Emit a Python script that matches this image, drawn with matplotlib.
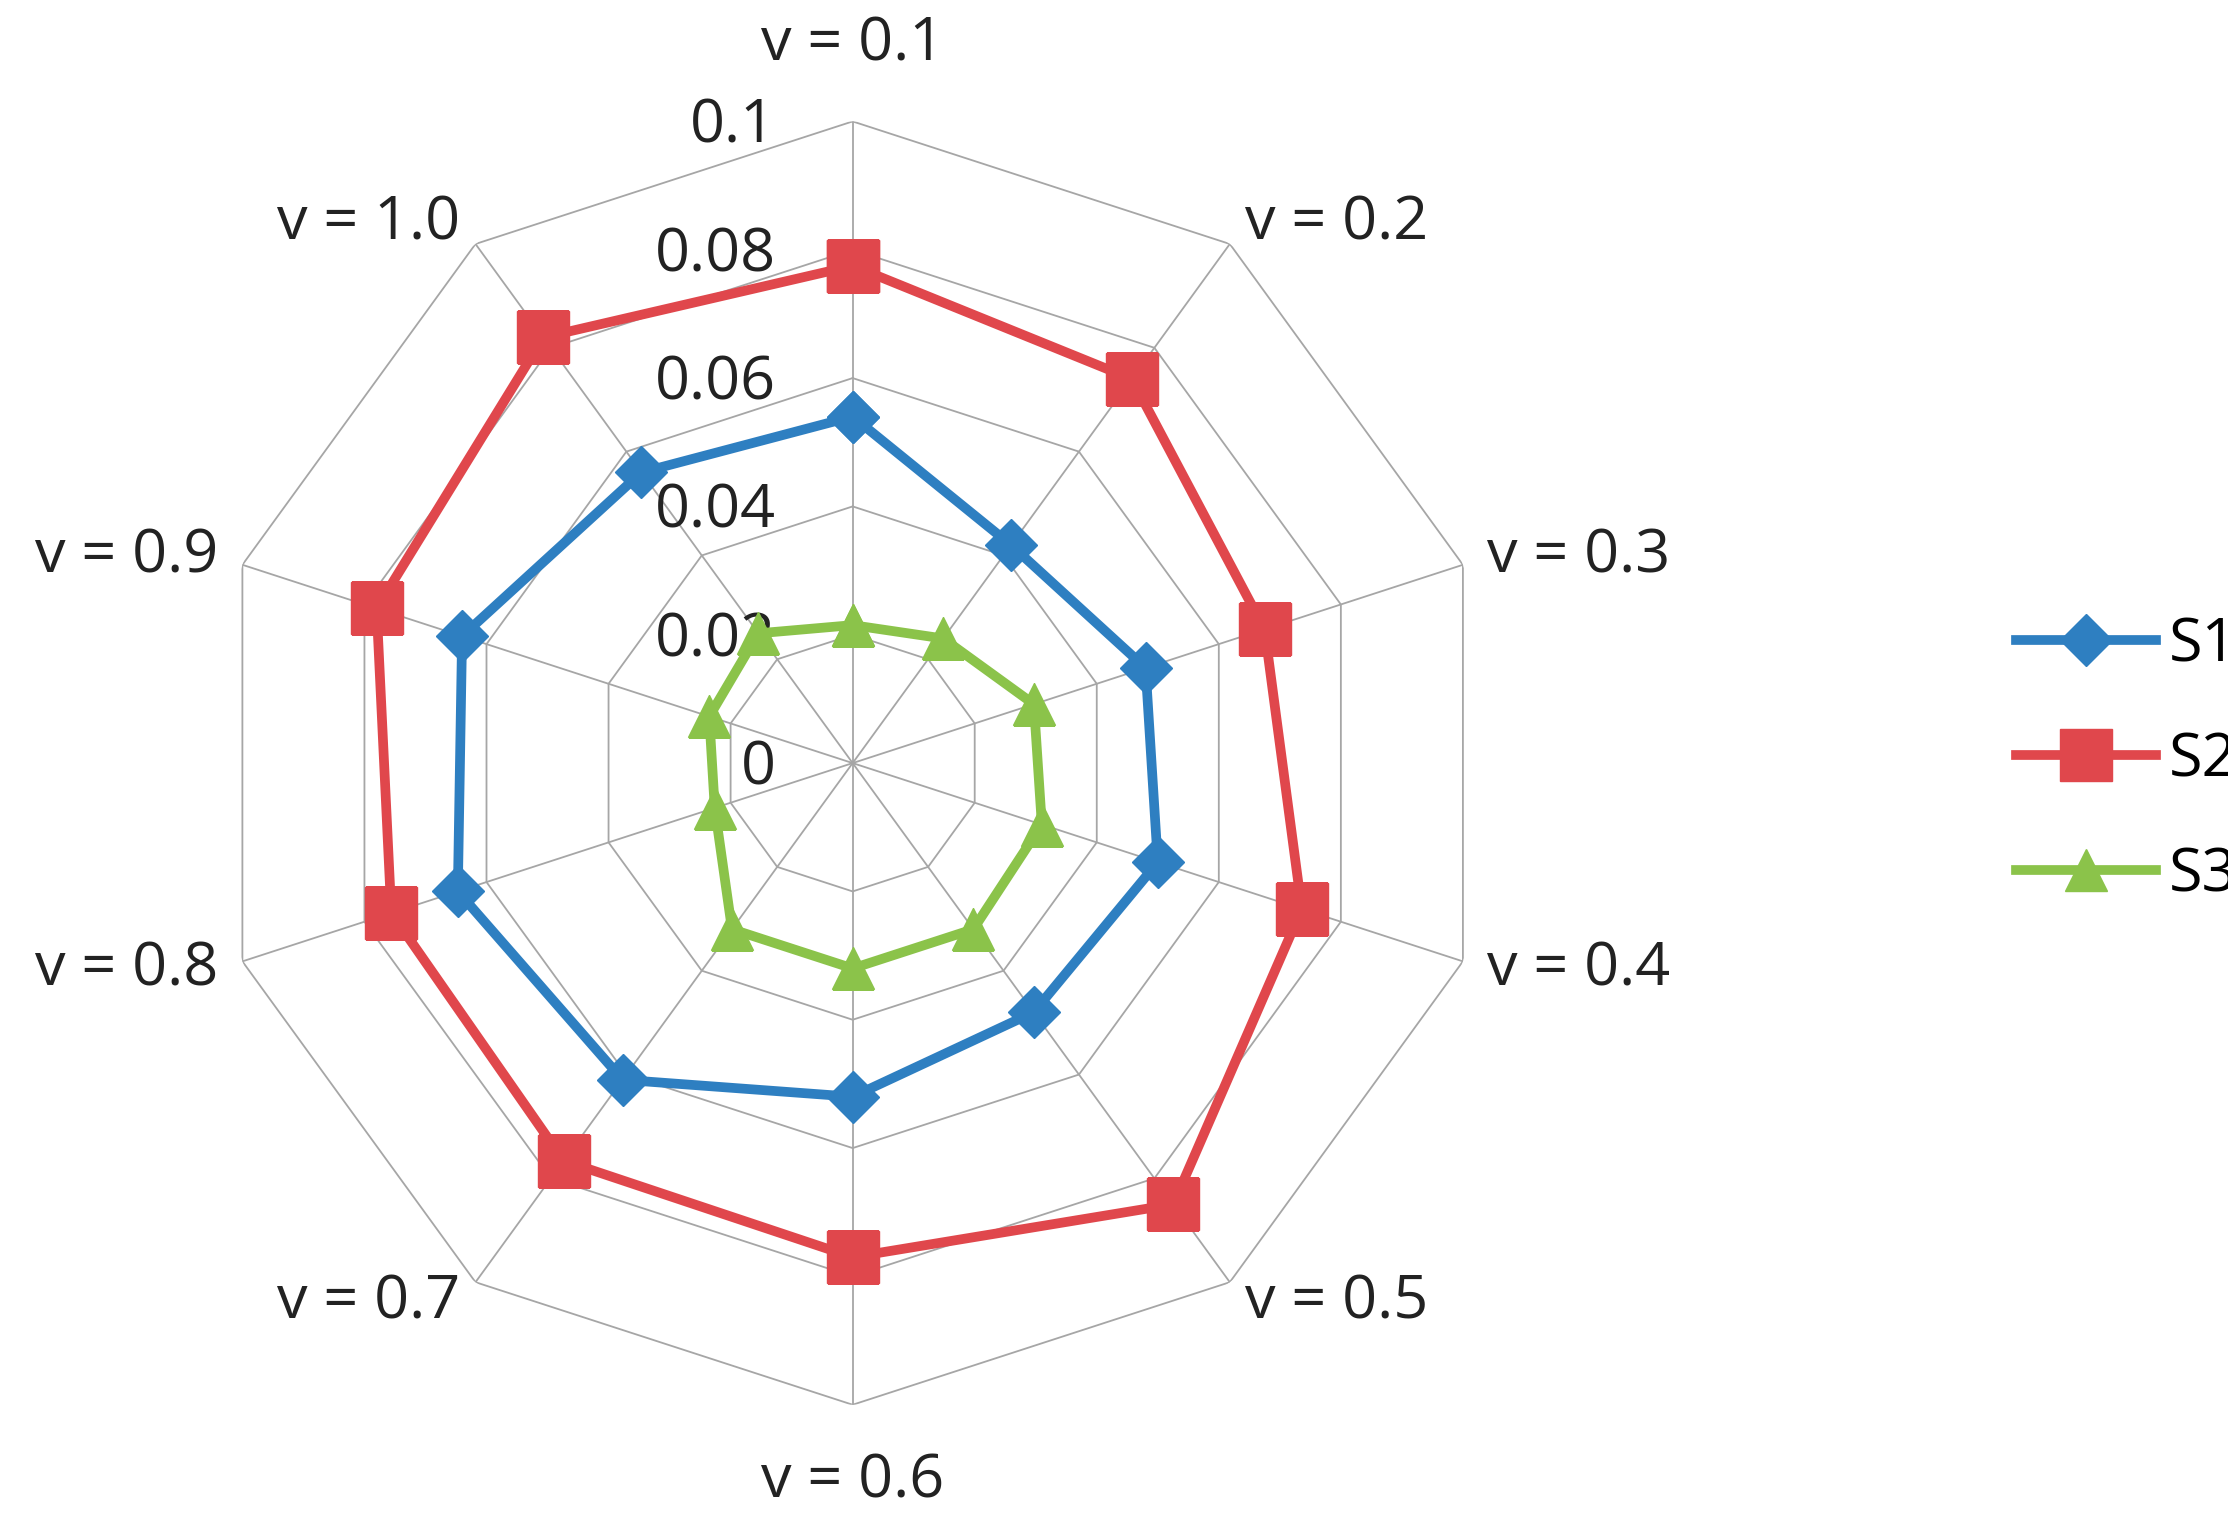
import numpy as np
import matplotlib
matplotlib.use("Agg")
import matplotlib.pyplot as plt

categories = ["v = 0.1","v = 0.2","v = 0.3","v = 0.4","v = 0.5","v = 0.6","v = 0.7","v = 0.8","v = 0.9","v = 1.0"]
s1 = [0.054,0.042,0.048,0.050,0.048,0.052,0.061,0.0647,0.064,0.056]
s2 = [0.0775,0.074,0.0675,0.0736,0.085,0.077,0.0766,0.0756,0.078,0.082]
s3 = [0.0215,0.024,0.0297,0.031,0.032,0.032,0.032,0.0226,0.0235,0.025]
rticks = [0,0.02,0.04,0.06,0.08,0.1]
rlabels = ["0","0.02","0.04","0.06","0.08","0.1"]

plt.rcParams['font.family'] = ['Open Sans','DejaVu Sans']
fig = plt.figure(figsize=(22.28,15.21), dpi=100)
ax = fig.add_axes([0.0947,0.0763,0.576,0.844], projection='polar')
ax.set_theta_zero_location('N'); ax.set_theta_direction(-1)
n = len(categories)
th = np.arange(n)*2*np.pi/n
thc = np.append(th, th[0])
ax.set_ylim(0,0.1)
ax.grid(False); ax.spines['polar'].set_visible(False)
ax.set_xticks([]); ax.set_yticks([])
for r in rticks[1:]:
    ax.plot(thc,[r]*(n+1),color='#a6a6a6',lw=1.3,zorder=1)
for t in th:
    ax.plot([t,t],[0,0.1],color='#a6a6a6',lw=1.3,zorder=1)
for r,l in zip(rticks,rlabels):
    ax.annotate(l,(0,r),xytext=(-55,-4),textcoords='offset points',ha='right',va='center',fontsize=44,color='#222222')
for t,c in zip(th,categories):
    s = np.sin(t)
    ha = 'center' if abs(s)<0.1 else ('left' if s>0 else 'right')
    rr = 0.112 if abs(s)<0.1 else 0.104
    ax.text(t,rr,c,ha=ha,va='center',fontsize=44,color='#222222')
def close(v): return list(v)+[v[0]]
ax.plot(thc,close(s1),color='#2e7fc1',lw=7,marker='D',ms=26,label='S1',zorder=3)
ax.plot(thc,close(s2),color='#e0474c',lw=7,marker='s',ms=38,label='S2',zorder=3)
ax.plot(thc,close(s3),color='#8bc34a',lw=7,marker='^',ms=30,label='S3',zorder=3)
fig.legend(loc='center left',bbox_to_anchor=(0.88,0.5),frameon=False,fontsize=44,handlelength=2.3,labelspacing=0.9,handletextpad=0.2)
fig.savefig('out.png',dpi=100)
